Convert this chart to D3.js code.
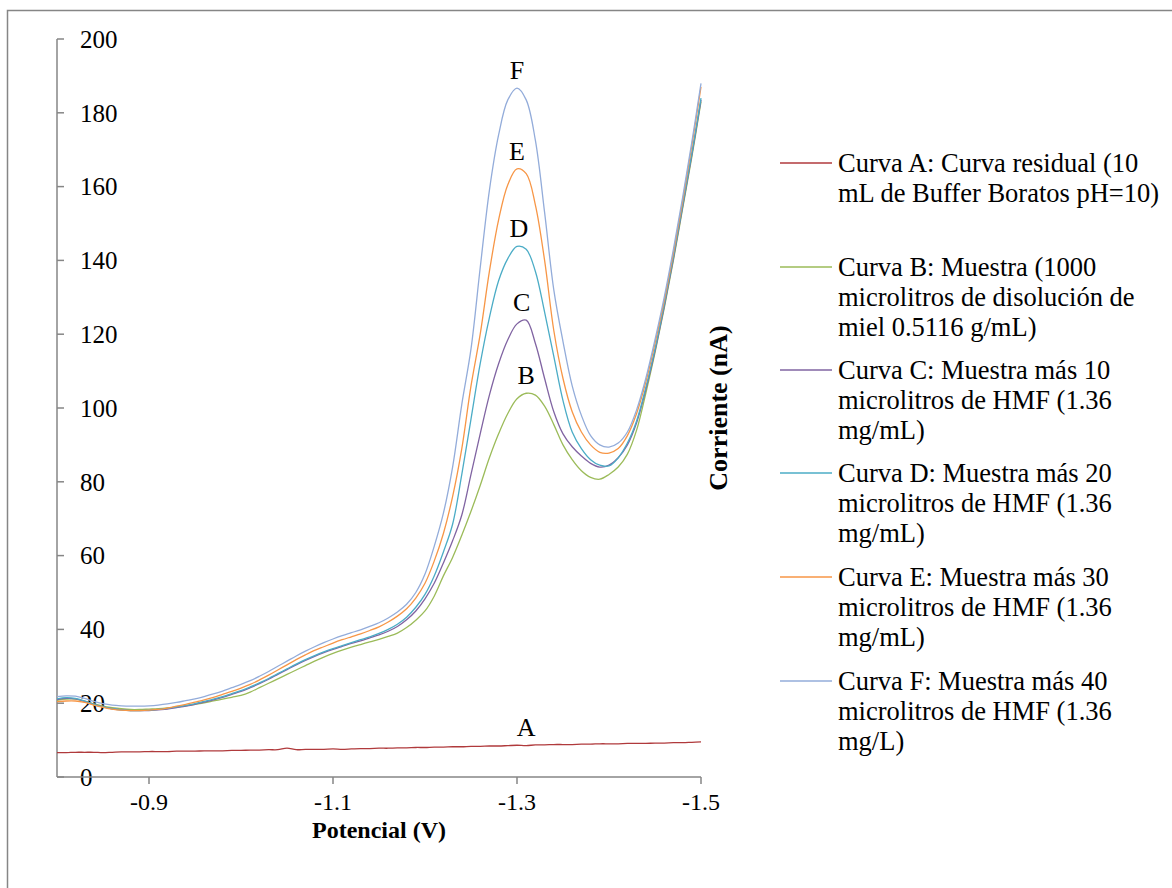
<!DOCTYPE html>
<html><head><meta charset="utf-8">
<script src="https://cdn.jsdelivr.net/npm/d3@7"></script>
<style>body{margin:0;background:#fff}svg{display:block}</style>
</head><body>
<svg id="c" width="1172" height="888"></svg>
<script>
const potentials = [-0.80,-0.81,-0.82,-0.83,-0.84,-0.85,-0.86,-0.87,-0.88,-0.89,-0.90,-0.91,-0.92,-0.93,-0.94,-0.95,-0.96,-0.97,-0.98,-0.99,-1.00,-1.01,-1.02,-1.03,-1.04,-1.05,-1.06,-1.07,-1.08,-1.09,-1.10,-1.11,-1.12,-1.13,-1.14,-1.15,-1.16,-1.17,-1.18,-1.19,-1.20,-1.21,-1.22,-1.23,-1.24,-1.25,-1.26,-1.27,-1.28,-1.29,-1.30,-1.31,-1.32,-1.33,-1.34,-1.35,-1.36,-1.37,-1.38,-1.39,-1.40,-1.41,-1.42,-1.43,-1.44,-1.45,-1.46,-1.47,-1.48,-1.49,-1.50];
const curveA = [6.6,6.6,6.7,6.7,6.7,6.6,6.7,6.8,6.8,6.8,6.9,6.9,6.9,7.0,7.0,7.0,7.1,7.1,7.1,7.2,7.2,7.3,7.3,7.4,7.4,7.8,7.4,7.5,7.5,7.5,7.6,7.5,7.6,7.7,7.7,7.8,7.8,7.9,7.9,8.0,8.0,8.1,8.1,8.2,8.2,8.3,8.3,8.4,8.4,8.5,8.6,8.5,8.7,8.7,8.8,8.8,8.8,8.9,8.9,9.0,9.0,9.0,9.1,9.1,9.1,9.2,9.2,9.3,9.3,9.4,9.5];
const curveB = [20.8,21.1,21.1,20.5,19.8,19.2,18.8,18.5,18.3,18.3,18.4,18.5,18.7,19.0,19.3,19.7,20.1,20.6,21.1,21.6,22.1,23.0,24.2,25.4,26.6,27.8,29.0,30.2,31.4,32.5,33.5,34.4,35.2,35.9,36.6,37.3,38.1,39.0,40.5,42.5,45.0,49.0,54.5,59.5,65.5,72.0,79.0,86.5,93.0,98.5,102.5,104.0,103.5,100.5,95.5,90.0,86.0,83.0,81.2,80.7,82.0,84.0,87.5,94.0,104.0,115.0,127.0,140.0,154.0,168.0,183.0];
const curveC = [21.0,21.3,21.2,20.5,19.7,19.0,18.5,18.2,18.0,18.0,18.0,18.2,18.4,18.8,19.2,19.7,20.3,20.9,21.6,22.4,23.2,24.2,25.3,26.5,27.8,29.1,30.4,31.6,32.7,33.7,34.6,35.4,36.2,36.9,37.7,38.5,39.5,40.8,42.6,45.0,48.3,52.5,58.0,64.0,71.0,82.0,93.0,103.5,112.0,118.5,122.8,123.8,117.5,108.0,99.0,93.0,89.5,87.0,85.0,84.0,84.5,86.5,90.0,96.0,105.0,115.5,127.5,140.5,154.5,168.5,183.5];
const curveD = [21.2,21.5,21.3,20.6,19.7,19.0,18.5,18.2,18.0,18.0,18.1,18.3,18.6,19.0,19.4,19.9,20.5,21.1,21.8,22.6,23.4,24.4,25.5,26.7,28.0,29.3,30.6,31.8,32.9,33.9,34.8,35.6,36.4,37.2,38.0,38.9,40.0,41.4,43.3,46.0,49.5,54.5,61.0,68.5,82.0,97.0,112.0,124.5,134.5,140.5,143.8,143.0,137.0,126.0,114.0,102.0,93.5,89.0,86.0,84.5,84.3,86.5,90.5,96.5,105.5,116.0,128.0,141.0,155.0,169.0,184.0];
const curveE = [20.4,20.6,20.6,20.2,19.5,18.9,18.4,18.1,18.0,18.0,18.1,18.3,18.7,19.2,19.7,20.3,20.9,21.6,22.4,23.2,24.1,25.1,26.3,27.6,29.0,30.4,31.8,33.1,34.3,35.3,36.3,37.2,38.0,38.8,39.7,40.7,42.0,43.6,45.6,48.5,52.5,58.5,66.0,76.0,89.0,106.0,120.0,137.0,151.0,160.5,164.8,163.5,155.0,140.0,121.0,108.0,99.0,93.5,90.0,88.0,87.8,89.0,92.5,98.5,107.0,117.5,129.0,142.0,156.0,171.0,187.0];
const curveF = [21.8,22.0,21.9,21.3,20.5,19.9,19.5,19.3,19.2,19.2,19.3,19.5,19.8,20.2,20.7,21.2,21.8,22.5,23.3,24.2,25.1,26.1,27.3,28.6,30.0,31.4,32.8,34.1,35.3,36.4,37.4,38.3,39.1,39.9,40.8,41.8,43.1,44.7,46.8,50.0,55.0,62.5,71.5,84.0,101.0,116.0,138.0,159.0,174.0,183.5,186.7,183.5,172.5,153.0,132.0,118.0,106.0,98.0,92.5,90.0,89.4,90.5,93.5,99.5,108.0,118.5,130.0,143.0,157.0,172.0,188.0];
const seriesNames = ["A","B","C","D","E","F"];
const seriesValues = [curveA, curveB, curveC, curveD, curveE, curveF];
const seriesColors = ["#B03A3C","#9BBB59","#8064A2","#4BACC6","#F79646","#93ACDA"];
const legendLabels = [
  ["Curva A: Curva residual (10","mL de Buffer Boratos pH=10)"],
  ["Curva B: Muestra (1000","microlitros de disolución de","miel 0.5116 g/mL)"],
  ["Curva C: Muestra más 10","microlitros de HMF (1.36","mg/mL)"],
  ["Curva D: Muestra más 20","microlitros de HMF (1.36","mg/mL)"],
  ["Curva E: Muestra más 30","microlitros de HMF (1.36","mg/mL)"],
  ["Curva F: Muestra más 40","microlitros de HMF (1.36","mg/L)"]
];
const peakLabelPoints = [[-1.31,8.7],[-1.31,104],[-1.305,123.8],[-1.302,143.8],[-1.30,164.8],[-1.30,186.7]];
const xTicks = [-0.9,-1.1,-1.3,-1.5];
const yTicks = [0,20,40,60,80,100,120,140,160,180,200];
const xTitle = "Potencial (V)";
const yTitle = "Corriente (nA)";

const FONT = "'Liberation Serif', 'Times New Roman', serif";
const svg = d3.select("#c").attr("font-family", FONT);
const axisColor = "#868686";
svg.append("rect").attr("x",7.5).attr("y",10.5).attr("width",1300).attr("height",1000)
  .attr("fill","none").attr("stroke",axisColor).attr("stroke-width",1.5);

const x = d3.scaleLinear().domain([-0.8,-1.5]).range([57,701]);
const y = d3.scaleLinear().domain([0,200]).range([777,39]);

function txt(sel){ return sel.append("text").attr("font-family",FONT).attr("fill","#000"); }

// y axis
const yAxis = svg.append("g");
yAxis.append("line").attr("x1",x(-0.8)).attr("x2",x(-0.8)).attr("y1",y(0)).attr("y2",y(200))
  .attr("stroke",axisColor).attr("stroke-width",1.5);
yAxis.selectAll("line.t").data(yTicks).enter().append("line").attr("class","t")
  .attr("x1",x(-0.8)).attr("x2",x(-0.8)+7).attr("y1",d=>y(d)).attr("y2",d=>y(d))
  .attr("stroke",axisColor).attr("stroke-width",1.5);
yTicks.forEach(d=>{
  txt(yAxis).attr("x",80).attr("y",y(d)).attr("dy","0.35em").attr("font-size",25).text(d);
});

// x axis
const xAxis = svg.append("g");
xAxis.append("line").attr("x1",x(-0.8)).attr("x2",x(-1.5)).attr("y1",y(0)).attr("y2",y(0))
  .attr("stroke",axisColor).attr("stroke-width",1.5);
xAxis.selectAll("line.t").data(xTicks).enter().append("line").attr("class","t")
  .attr("x1",d=>x(d)).attr("x2",d=>x(d)).attr("y1",y(0)).attr("y2",y(0)+7)
  .attr("stroke",axisColor).attr("stroke-width",1.5);
xTicks.forEach(d=>{
  txt(xAxis).attr("x",x(d)).attr("y",802).attr("dy","0.35em").attr("text-anchor","middle").attr("font-size",24)
    .text(d.toFixed(1));
});

txt(svg).attr("x",(x(-0.8)+x(-1.5))/2).attr("y",830).attr("dy","0.35em").attr("text-anchor","middle")
  .attr("font-size",24).attr("font-weight","bold").text(xTitle);
txt(svg).attr("transform",`translate(718,${(y(0)+y(200))/2}) rotate(-90)`).attr("dy","0.35em")
  .attr("text-anchor","middle").attr("font-size",26).attr("font-weight","bold").text(yTitle);

// curves
const line = d3.line().x(d=>x(d[0])).y(d=>y(d[1])).curve(d3.curveCatmullRom.alpha(0.5));
seriesValues.forEach((vals,i)=>{
  svg.append("path").datum(potentials.map((p,j)=>[p,vals[j]]))
    .attr("fill","none").attr("stroke",seriesColors[i]).attr("stroke-width",1.3).attr("d",line);
});

// peak labels
seriesNames.forEach((n,i)=>{
  const p = peakLabelPoints[i];
  txt(svg).attr("x",x(p[0])).attr("y",y(p[1])-9).attr("text-anchor","middle")
    .attr("font-size",26).text(n);
});

// legend
const legendTop = [163,267,370,473,577,681];
legendLabels.forEach((lines,i)=>{
  const g = svg.append("g");
  g.append("line").attr("x1",780).attr("x2",832).attr("y1",legendTop[i]).attr("y2",legendTop[i])
    .attr("stroke",seriesColors[i]).attr("stroke-width",1.3);
  lines.forEach((t,k)=>{
    txt(g).attr("x",838).attr("y",legendTop[i]+k*30).attr("dy","0.35em").attr("font-size",26.5).text(t);
  });
});
</script>
</body></html>
